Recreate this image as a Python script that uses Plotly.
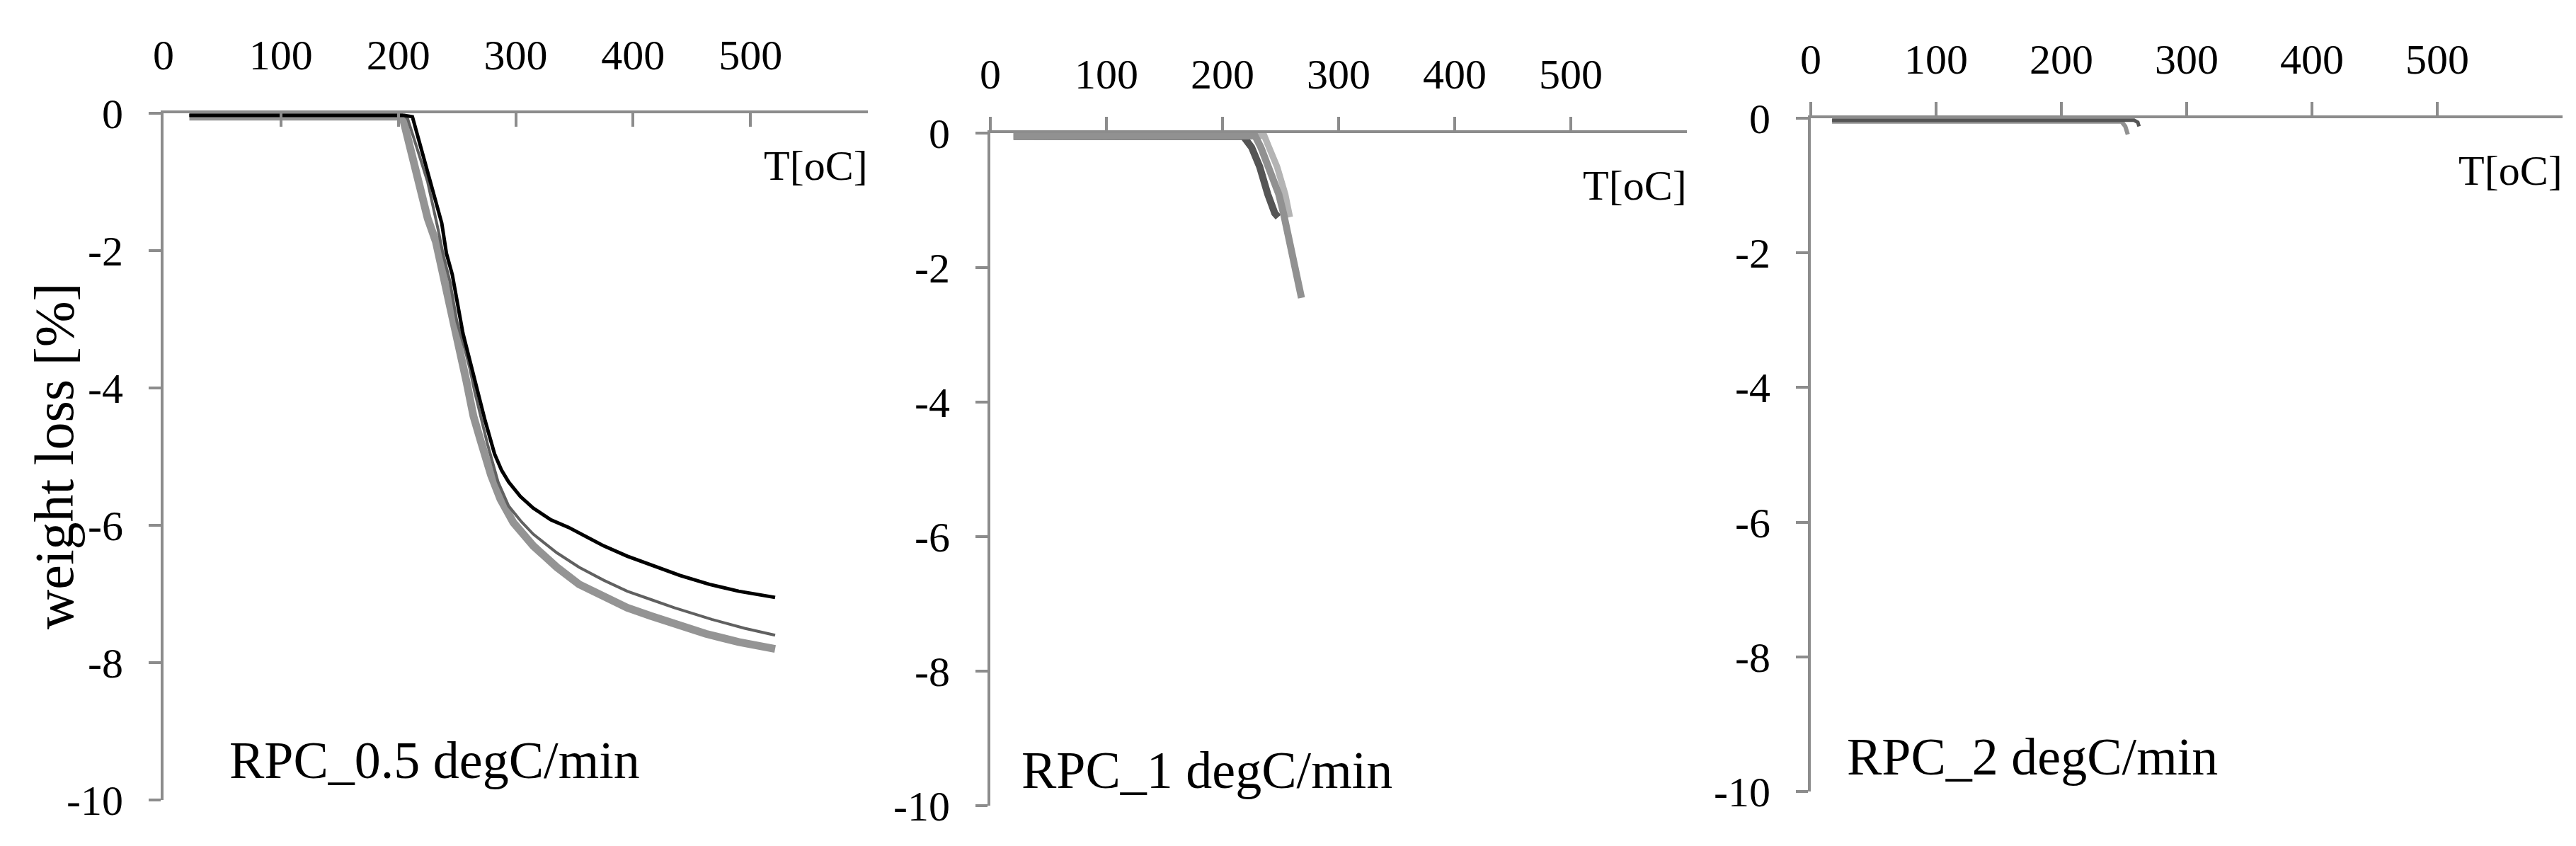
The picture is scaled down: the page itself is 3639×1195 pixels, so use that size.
import plotly.graph_objects as go

W_PX, H_PX = 3639, 1195

# ---- data ----
x_ticks = [0, 100, 200, 300, 400, 500]
y_ticks = [0, -2, -4, -6, -8, -10]
y_tick_text = ["0", "-2", "-4", "-6", "-8", "-10"]

# panel 1: RPC_0.5 degC/min
p1_black_T = [22, 205, 212, 222, 230, 237, 241, 246, 255, 261, 268, 274, 282, 288, 294, 304, 315,
              330, 345, 360, 375, 395, 415, 440, 465, 490, 521]
p1_black_W = [-0.03, -0.03, -0.05, -0.67, -1.18, -1.6, -2.04, -2.35, -3.2, -3.62, -4.07, -4.48, -4.96,
              -5.2, -5.37, -5.58, -5.75, -5.92, -6.03, -6.17, -6.30, -6.45, -6.58, -6.73, -6.86, -6.96, -7.05]
p1_dark_T = [22, 205, 208, 216, 225, 234, 238, 244, 250, 257, 261, 265, 269, 276, 285, 294, 305, 315,
             335, 354, 375, 395, 415, 435, 467, 495, 521]
p1_dark_W = [-0.03, -0.03, -0.08, -0.5, -1.0, -1.7, -2.04, -2.45, -3.04, -3.45, -3.72, -4.05, -4.34,
             -4.82, -5.37, -5.72, -5.95, -6.13, -6.40, -6.61, -6.80, -6.96, -7.08, -7.20, -7.37, -7.50, -7.60]
p1_light_T = [22, 202, 204, 210, 216, 225, 232, 238, 240, 249, 258, 264, 270, 279, 287, 298, 315,
              335, 354, 375, 395, 415, 435, 462, 490, 521]
p1_light_W = [-0.05, -0.05, -0.08, -0.5, -1.0, -1.53, -1.87, -2.38, -2.52, -3.2, -3.9, -4.41, -4.76,
              -5.27, -5.62, -5.96, -6.3, -6.61, -6.86, -7.05, -7.2, -7.32, -7.43, -7.58, -7.70, -7.80]

# panel 2: RPC_1 degC/min
p2_dark_T = [20, 218, 225, 232, 239, 245, 248]
p2_dark_W = [-0.05, -0.05, -0.21, -0.5, -0.91, -1.19, -1.25]
p2_light_T = [20, 236, 240, 247, 254, 258]
p2_light_W = [-0.05, -0.04, -0.21, -0.5, -0.91, -1.25]
p2_mid_T = [20, 228, 233, 240, 248.5, 252.5, 258, 263, 266, 268]
p2_mid_W = [-0.05, -0.04, -0.21, -0.5, -0.91, -1.19, -1.61, -1.95, -2.25, -2.45]

# panel 3: RPC_2 degC/min
p3_mid_T = [17, 248, 251, 253]
p3_mid_W = [-0.05, -0.05, -0.12, -0.24]
p3_dark_T = [17, 258, 261, 262]
p3_dark_W = [-0.03, -0.03, -0.06, -0.12]

panel_labels = ["RPC_0.5 degC/min", "RPC_1 degC/min", "RPC_2 degC/min"]

# ---- styling ----
FONT = "Liberation Serif"
AXIS_COLOR = "#8c8c8c"


def px_x(v):
    return v / W_PX


def px_y(v):
    return 1 - v / H_PX


# plot-area boxes in pixels: left, right, top(y=0), bottom(y=-10)
boxes = [(223, 1218, 152, 1122), (1391, 2375, 180, 1130), (2550, 3612, 159, 1110)]
tick_dirs = ["inside", "outside", "outside"]

fig = go.Figure()

series = [
    (1, p1_light_T, p1_light_W, "#949494", 11),
    (1, p1_dark_T, p1_dark_W, "#606060", 4),
    (1, p1_black_T, p1_black_W, "#000000", 5),
    (2, p2_dark_T, p2_dark_W, "#555555", 10),
    (2, p2_light_T, p2_light_W, "#b4b4b4", 9),
    (2, p2_mid_T, p2_mid_W, "#919191", 10),
    (3, p3_mid_T, p3_mid_W, "#919191", 6),
    (3, p3_dark_T, p3_dark_W, "#555555", 5),
]
for k, xs, ys, col, w in series:
    suffix = "" if k == 1 else str(k)
    fig.add_trace(go.Scatter(x=xs, y=ys, mode="lines", xaxis="x" + suffix, yaxis="y" + suffix,
                             line=dict(color=col, width=w), showlegend=False, hoverinfo="skip"))

layout = dict(
    template="none",
    width=W_PX, height=H_PX,
    margin=dict(l=0, r=0, t=0, b=0, pad=0),
    paper_bgcolor="white", plot_bgcolor="white",
    font=dict(family=FONT, color="black", size=60),
    showlegend=False,
)

annotations = []
for i, (l, r, t, b) in enumerate(boxes):
    suffix = "" if i == 0 else str(i + 1)
    layout["xaxis" + suffix] = dict(
        domain=[px_x(l), px_x(r)], range=[0, 600], side="top", automargin=False,
        anchor="y" + suffix, tickvals=x_ticks, ticks=tick_dirs[i], ticklen=19, tickwidth=4,
        tickcolor=AXIS_COLOR, showline=True, linecolor=AXIS_COLOR, linewidth=4,
        showgrid=False, zeroline=False, tickfont=dict(size=60, family=FONT, color="black"),
        ticklabelstandoff=34 if i == 0 else 16,
    )
    layout["yaxis" + suffix] = dict(
        domain=[px_y(b), px_y(t)], range=[-10, 0], anchor="x" + suffix, automargin=False,
        tickvals=y_ticks, ticktext=y_tick_text, ticks="outside", ticklen=17, tickwidth=4,
        tickcolor=AXIS_COLOR, showline=True, linecolor=AXIS_COLOR, linewidth=4,
        showgrid=False, zeroline=False, tickfont=dict(size=60, family=FONT, color="black"),
        ticklabelstandoff=24,
    )
    # T[oC] axis label
    annotations.append(dict(
        text="T[oC]", xref="paper", yref="paper", x=px_x(r + 2), y=px_y(t + 74),
        xanchor="right", yanchor="middle", showarrow=False, font=dict(size=60, family=FONT),
    ))

# panel captions
caption_pos = [(314, 1066), (1433, 1080), (2599, 1061)]
for (cx, cy), txt in zip(caption_pos, panel_labels):
    annotations.append(dict(
        text=txt, xref="paper", yref="paper", x=px_x(cx), y=px_y(cy),
        xanchor="left", yanchor="middle", showarrow=False, font=dict(size=74, family=FONT),
    ))

# y title
annotations.append(dict(
    text="weight loss [%]", xref="paper", yref="paper", x=px_x(68), y=px_y(636),
    xanchor="center", yanchor="middle", textangle=-90, showarrow=False,
    font=dict(size=78, family=FONT),
))

layout["annotations"] = annotations
fig.update_layout(**layout)

fig.write_html("out.html")
